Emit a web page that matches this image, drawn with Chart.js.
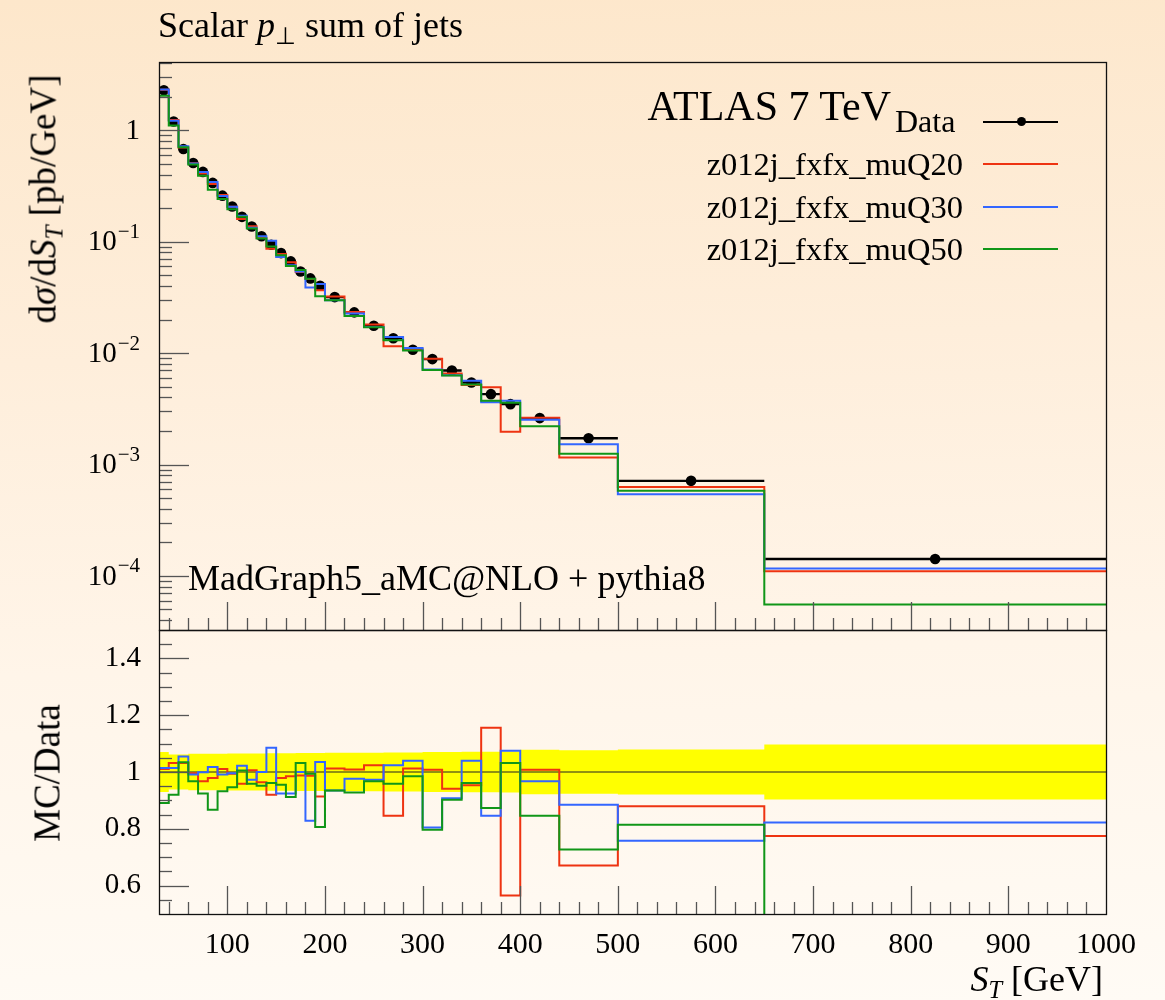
<!DOCTYPE html>
<html>
<head>
<meta charset="utf-8">
<script src="https://cdn.jsdelivr.net/npm/chart.js@4.4.0/dist/chart.umd.min.js"></script>
<style>
html, body { margin: 0; padding: 0; }
body {
  width: 1165px; height: 1000px; overflow: hidden; position: relative;
  background: linear-gradient(178deg, #fde7cb 0%, #feeedb 35%, #fff5e9 65%, #fffbf5 100%);
  font-family: "Liberation Serif", serif; color: #000;
}
canvas { position: absolute; left: 0; top: 0; }
.t { position: absolute; white-space: nowrap; line-height: 1; }
.t sub { font-size: 0.68em; vertical-align: -0.28em; line-height: 0; }
.ln { position: absolute; left: 983px; width: 75px; height: 2.4px; }
.rot { position: absolute; white-space: nowrap; line-height: 1; transform: translate(-50%, -50%) rotate(-90deg); }
.rot sub { font-size: 0.68em; vertical-align: -0.28em; line-height: 0; }
</style>
</head>
<body>
<canvas id="top" width="1165" height="1000"></canvas>
<canvas id="ratio" width="1165" height="1000"></canvas>

<div class="t" style="left:158px;top:7px;font-size:36px">Scalar <i>p</i><sub>⊥</sub> sum of jets</div>
<div class="t" style="right:274px;top:85px;font-size:42px">ATLAS 7 TeV</div>
<div class="t" style="left:895px;top:105px;font-size:32px">Data</div>
<div id="legend"></div>
<div class="t" style="left:188px;top:560px;font-size:36px">MadGraph5_aMC@NLO + pythia8</div>
<div class="rot" style="left:43px;top:199px;font-size:37px">d<i>σ</i>/d<i>S</i><sub><i>T</i></sub> [pb/GeV]</div>
<div class="rot" style="left:47px;top:773px;font-size:37px">MC/Data</div>
<div class="t" style="right:62px;top:961px;font-size:36px"><i>S</i><sub><i>T</i></sub> [GeV]</div>

<script>
// bins in S_T [GeV]
var binEdges = [30,40,50,60,70,80,90,100,110,120,130,140,150,160,170,180,190,200,
                220,240,260,280,300,320,340,360,380,400,440,500,650,1000];

// ATLAS data, dsigma/dST [pb/GeV]
var dataVals = [2.29, 1.20, 0.68, 0.509, 0.423, 0.337, 0.259, 0.207, 0.167, 0.137,
                0.112, 0.094, 0.079, 0.0665, 0.054, 0.0468, 0.0402, 0.0318, 0.0232, 0.0176,
                0.0136, 0.0107, 0.00883, 0.00698, 0.00544, 0.00428, 0.00348, 0.00261, 0.00172,
                0.000713, 0.000142];
// relative data uncertainty (yellow band)
var dataErr = [0.070, 0.062, 0.062, 0.064, 0.064, 0.064, 0.064, 0.065, 0.065, 0.065,
               0.065, 0.066, 0.066, 0.066, 0.067, 0.067, 0.067, 0.068, 0.068, 0.068,
               0.069, 0.069, 0.070, 0.070, 0.071, 0.071, 0.072, 0.078, 0.077, 0.079, 0.097];

// MC / Data
var ratio20 = [1.011, 1.032, 1.032, 0.996, 0.967, 0.979, 1.011, 0.994, 0.959, 1.006,
               0.964, 0.920, 0.979, 0.985, 0.988, 0.987, 0.914, 1.012, 1.009, 1.024,
               0.846, 1.012, 1.008, 0.941, 0.953, 1.156, 0.565, 1.008, 0.671, 0.879, 0.775];
var ratio30 = [1.014, 1.014, 1.055, 0.991, 0.999, 1.018, 0.991, 0.996, 1.022, 0.973,
               1.000, 1.085, 0.924, 0.924, 1.000, 0.828, 1.035, 0.935, 0.976, 0.973,
               1.024, 1.040, 0.805, 0.908, 1.040, 0.846, 1.075, 0.967, 0.885, 0.758, 0.822];
var ratio50 = [0.891, 0.920, 1.034, 0.967, 0.924, 0.867, 0.932, 0.946, 1.005, 0.959,
               0.952, 0.961, 0.955, 0.912, 1.032, 0.994, 0.806, 0.935, 0.928, 0.967,
               0.959, 0.985, 0.797, 0.902, 0.961, 0.873, 1.032, 0.846, 0.727, 0.814, 0.390];

var seriesNames = ['z012j_fxfx_muQ20', 'z012j_fxfx_muQ30', 'z012j_fxfx_muQ50'];
var seriesColors = ['#EE3311', '#3366FF', '#109618'];

var xTickVals = [100,200,300,400,500,600,700,800,900,1000];
var yTickVals = [1e-4, 1e-3, 1e-2, 1e-1, 1];
var yTickBase = ['10', '10', '10', '10', '1'];
var yTickSup = ['\u22124', '\u22123', '\u22122', '\u22121', ''];
var rTickVals = [0.6, 0.8, 1, 1.2, 1.4];
var rTickText = ['0.6', '0.8', '1', '1.2', '1.4'];

Chart.defaults.font.family = '"Liberation Serif", serif';
Chart.defaults.color = '#000';

// legend (html)
var leg = document.getElementById('legend');
var legTops = [148, 190.5, 233];
var lineY = [164.3, 206.7, 249.3];
var html = '<div class="ln" style="top:120.5px;background:#000"></div>' +
  '<div style="position:absolute;left:1016.5px;top:117.2px;width:9px;height:9px;border-radius:50%;background:#000"></div>';
for (var i = 0; i < seriesNames.length; i++) {
  html += '<div class="t" style="right:202px;top:' + legTops[i] + 'px;font-size:32.5px">' + seriesNames[i] + '</div>';
  html += '<div class="ln" style="top:' + (lineY[i] - 1.2) + 'px;background:' + seriesColors[i] + '"></div>';
}
leg.innerHTML = html;

function histo(vals) {
  var pts = [];
  for (var i = 0; i < vals.length; i++) pts.push({x: binEdges[i], y: vals[i]});
  pts.push({x: binEdges[vals.length], y: vals[vals.length - 1]});
  return pts;
}
function mcVals(r) {
  return r.map(function (v, i) { return v * dataVals[i]; });
}
function stepLine(pts, color, ord) {
  return {data: pts, borderColor: color, backgroundColor: color, borderWidth: 2,
          pointRadius: 0, stepped: 'before', fill: false, order: ord, borderJoinStyle: 'miter'};
}

var dataBars = [], dataPts = [];
for (var i = 0; i < dataVals.length; i++) {
  dataBars.push({x: binEdges[i], y: dataVals[i]});
  dataBars.push({x: binEdges[i + 1], y: dataVals[i]});
  dataBars.push({x: binEdges[i + 1], y: null});
  dataPts.push({x: (binEdges[i] + binEdges[i + 1]) / 2, y: dataVals[i]});
}

var bandUp = histo(dataErr.map(function (e) { return 1 + e; }));
var bandLo = histo(dataErr.map(function (e) { return 1 - e; }));

// ticks inside the frame + frame
function frameTicks(kind) {
  return {
    id: 'frame_' + kind,
    afterDatasetDraw: function (chart, args) {
      if (kind !== 'ratio' || args.index !== 1) return;
      var ctx = chart.ctx, a = chart.chartArea, py = chart.scales.y.getPixelForValue(1);
      ctx.save();
      ctx.strokeStyle = '#222'; ctx.lineWidth = 1.2;
      ctx.beginPath(); ctx.moveTo(a.left, py); ctx.lineTo(a.right, py); ctx.stroke();
      ctx.restore();
    },
    afterDatasetsDraw: function (chart) {
      var ctx = chart.ctx, a = chart.chartArea, xs = chart.scales.x, ys = chart.scales.y;
      ctx.save();
      ctx.strokeStyle = '#555'; ctx.lineWidth = 1.3;
      for (var v = 40; v < 1000; v += 20) {
        var px = Math.round(xs.getPixelForValue(v)) + 0.5;
        var len = (v % 100 === 0) ? 28 : 12;
        ctx.beginPath(); ctx.moveTo(px, a.bottom); ctx.lineTo(px, a.bottom - len); ctx.stroke();
      }
      var yt = [];
      if (kind === 'top') {
        for (var k = -5; k <= 0; k++) {
          for (var m = 1; m <= 9; m++) {
            var val = m * Math.pow(10, k);
            if (val > ys.min && val < ys.max) yt.push([val, m === 1]);
          }
        }
      } else {
        for (var j = 11; j <= 29; j++) yt.push([j * 0.05, j % 4 === 0]);
      }
      yt.forEach(function (t) {
        var py = Math.round(ys.getPixelForValue(t[0])) + 0.5;
        ctx.beginPath(); ctx.moveTo(a.left, py); ctx.lineTo(a.left + (t[1] ? 30 : 13), py); ctx.stroke();
      });
      ctx.strokeStyle = '#111'; ctx.lineWidth = 1.3;
      ctx.strokeRect(a.left + 0.5, a.top + 0.5, a.right - a.left, a.bottom - a.top);

      // log-axis labels with real superscripts
      if (kind === 'top') {
        ctx.fillStyle = '#000';
        ctx.textAlign = 'right';
        ctx.textBaseline = 'middle';
        yTickVals.forEach(function (v, i) {
          var py = ys.getPixelForValue(v);
          var xr = a.left - 19;
          if (yTickSup[i]) {
            ctx.font = '21px "Liberation Serif"';
            var w = ctx.measureText(yTickSup[i]).width;
            ctx.fillText(yTickSup[i], xr, py - 9);
            ctx.font = '29px "Liberation Serif"';
            ctx.fillText(yTickBase[i], xr - w - 1, py + 1);
          } else {
            ctx.font = '29px "Liberation Serif"';
            ctx.fillText(yTickBase[i], xr, py + 1);
          }
        });
      }
      ctx.restore();
    }
  };
}

new Chart(document.getElementById('top'), {
  type: 'line',
  data: {
    datasets: [
      stepLine(histo(mcVals(ratio50)), seriesColors[2], 0),
      stepLine(histo(mcVals(ratio30)), seriesColors[1], 1),
      stepLine(histo(mcVals(ratio20)), seriesColors[0], 2),
      {data: dataPts, showLine: false, pointRadius: 5.3, pointBackgroundColor: '#000',
       pointBorderWidth: 0, order: 3},
      {data: dataBars, borderColor: '#000', borderWidth: 2.4, pointRadius: 0,
       spanGaps: false, fill: false, order: 4}
    ]
  },
  options: {
    responsive: false, animation: false,
    layout: {padding: {top: 62, right: 59, left: 0, bottom: 0}},
    plugins: {legend: {display: false}, tooltip: {enabled: false}},
    scales: {
      x: {type: 'linear', min: 30, max: 1000,
          grid: {display: false, drawTicks: false}, border: {display: false},
          ticks: {display: false},
          afterFit: function (s) { s.height = 370; }},
      y: {type: 'logarithmic', min: 3.27e-5, max: 4.1,
          grid: {display: false, drawTicks: false}, border: {display: false},
          ticks: {display: false},
          afterBuildTicks: function (s) { s.ticks = yTickVals.map(function (v) { return {value: v}; }); },
          afterFit: function (s) { s.width = 159; }}
    }
  },
  plugins: [frameTicks('top')]
});

new Chart(document.getElementById('ratio'), {
  type: 'line',
  data: {
    datasets: [
      {data: bandUp, borderWidth: 0, pointRadius: 0, stepped: 'before', fill: false, order: 11},
      {data: bandLo, borderWidth: 0, pointRadius: 0, stepped: 'before', fill: '-1',
       backgroundColor: '#FFFF00', order: 10},
      stepLine(histo(ratio50), seriesColors[2], 0),
      stepLine(histo(ratio30), seriesColors[1], 1),
      stepLine(histo(ratio20), seriesColors[0], 2)
    ]
  },
  options: {
    responsive: false, animation: false,
    layout: {padding: {top: 630, right: 59, left: 0, bottom: 0}},
    plugins: {legend: {display: false}, tooltip: {enabled: false}},
    scales: {
      x: {type: 'linear', min: 30, max: 1000,
          grid: {display: false, drawTicks: false}, border: {display: false},
          ticks: {autoSkip: false, maxRotation: 0, padding: 13, font: {size: 30},
                  callback: function (v) { return String(v); }},
          afterBuildTicks: function (s) { s.ticks = xTickVals.map(function (v) { return {value: v}; }); },
          afterFit: function (s) { s.height = 86; }},
      y: {type: 'linear', min: 0.5, max: 1.5,
          grid: {display: false, drawTicks: false}, border: {display: false},
          ticks: {autoSkip: false, padding: 18, font: {size: 29},
                  callback: function (v) { var i = rTickVals.indexOf(v); return i < 0 ? '' : rTickText[i]; }},
          afterBuildTicks: function (s) { s.ticks = rTickVals.map(function (v) { return {value: v}; }); },
          afterFit: function (s) { s.width = 159; }}
    }
  },
  plugins: [frameTicks('ratio')]
});
</script>
</body>
</html>
